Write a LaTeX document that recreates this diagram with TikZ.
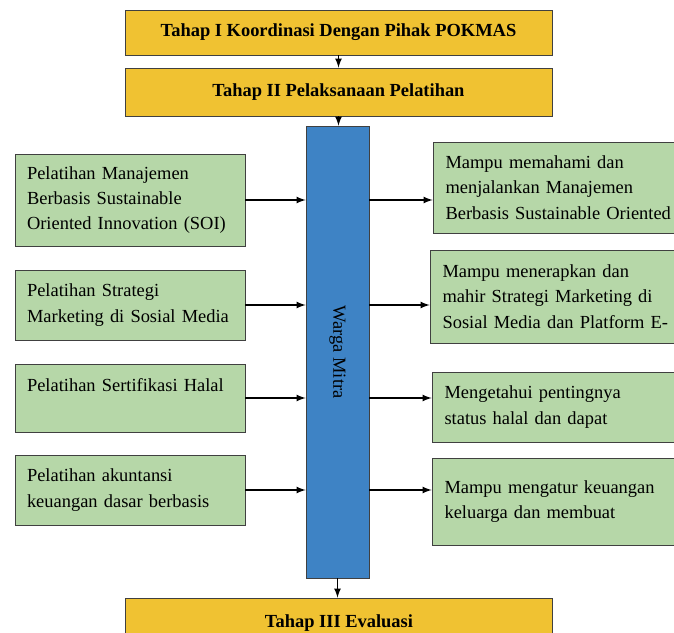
\documentclass[tikz,border=0pt]{standalone}
\usepackage{xcolor}
\usepackage{tikz}
\usepackage{fontspec}
\setmainfont{Liberation Serif}

\definecolor{kuning}{HTML}{F0C232}
\definecolor{hijau}{HTML}{B6D7A8}
\definecolor{biru}{HTML}{3E83C5}

\begin{document}
\begin{tikzpicture}[x=0.02cm, y=-0.02cm,
    tahap/.style={draw=black!75, fill=kuning, minimum width=8.54cm, font=\fontsize{10.5}{13}\selectfont\bfseries},
    kotak/.style={draw=black!75, fill=hijau, align=left, inner xsep=0.24cm, font=\fontsize{10.5}{14.4}\selectfont},
    panah/.style={-latex, thick}]
    \useasboundingbox (0,0) rectangle (674,633);
    % Define nodes
    \node[tahap, minimum height=0.9cm] (t1) at (338.5,32.5) {Tahap I Koordinasi Dengan Pihak POKMAS};
    \node[tahap, minimum height=0.96cm] (t2) at (338.5,92) {Tahap II Pelaksanaan Pelatihan};
    \node[draw=black!75, fill=biru, minimum width=1.26cm, minimum height=9.04cm] (warga) at (337.5,352) {};
    \node[rotate=-90, font=\fontsize{10.5}{13}\selectfont] (wargatext) at (warga) {Warga Mitra};
    \node[tahap, minimum height=1cm] (t3) at (339,623) {Tahap III Evaluasi};

    \node[kotak, minimum width=4.6cm, minimum height=1.84cm, text width=4.12cm] (l1) at (130,200) {Pelatihan Manajemen\\Berbasis Sustainable\\Oriented Innovation (SOI)};
    \node[kotak, minimum width=4.6cm, minimum height=1.4cm, text width=4.12cm] (l2) at (130,305) {Pelatihan Strategi\\Marketing di Sosial Media};
    \node[kotak, minimum width=4.6cm, minimum height=1.36cm, text width=4.12cm] (l3) at (130,398) {Pelatihan Sertifikasi Halal\\\mbox{}};
    \node[kotak, minimum width=4.6cm, minimum height=1.4cm, text width=4.12cm] (l4) at (130,490) {Pelatihan akuntansi\\keuangan dasar berbasis};

    \node[kotak, minimum width=6cm, minimum height=1.82cm, text width=5.5cm] (r1) at (583,187.5) {Mampu memahami dan\\menjalankan Manajemen\\Berbasis Sustainable Oriented};
    \node[kotak, minimum width=6cm, minimum height=1.86cm, text width=5.5cm] (r2) at (580,296.5) {Mampu menerapkan dan\\mahir Strategi Marketing di\\Sosial Media dan Platform E-};
    \node[kotak, minimum width=6cm, minimum height=1.4cm, text width=5.5cm] (r3) at (582,407) {Mengetahui pentingnya\\status halal dan dapat};
    \node[kotak, minimum width=6cm, minimum height=1.74cm, text width=5.5cm] (r4) at (582,501.5) {Mampu mengatur keuangan\\keluarga dan membuat};

    % Define connections
    \draw[panah] (t1) -- (t2);
    \draw[panah] (t2) -- (t2.south |- warga.north);
    \draw[panah] (warga.south) -- (warga.south |- t3.north);
    \foreach \a/\b in {l1/r1, l2/r2, l3/r3, l4/r4} {
        \draw[panah] (\a.east) -- (\a.east -| warga.west);
        \draw[panah] (warga.east |- \a.east) -- (\b.west |- \a.east);
    }
\end{tikzpicture}
\end{document}
